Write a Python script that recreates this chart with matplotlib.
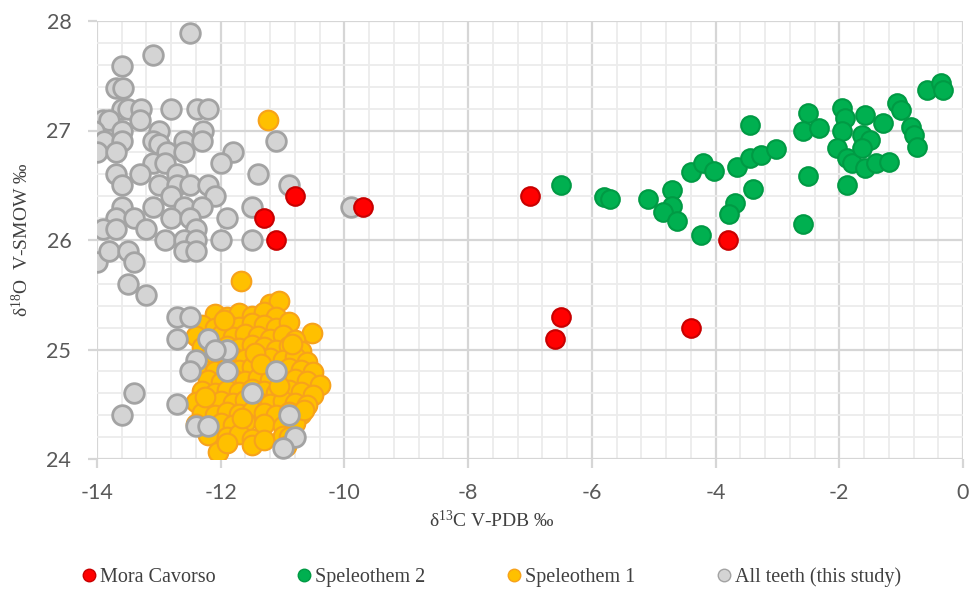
import matplotlib
matplotlib.use("Agg")
import matplotlib.pyplot as plt
from matplotlib.lines import Line2D
import numpy as np

plt.rcParams['mathtext.fontset'] = 'custom'
plt.rcParams['mathtext.rm'] = 'Liberation Serif'
plt.rcParams['mathtext.it'] = 'Liberation Serif:italic'

# ---------------- data ----------------
mora_x = [-11.3, -11.1, -10.8, -9.7, -7.0, -6.5, -6.6, -4.4, -3.8]
mora_y = [26.2, 26.0, 26.4, 26.3, 26.4, 25.3, 25.1, 25.2, 26.0]

spel2_x = [-6.5, -5.8, -5.7, -5.1, -4.7, -4.7, -4.85, -4.63, -4.23, -4.4, -4.2, -4.03,
           -3.66, -3.45, -3.27, -3.03, -3.68, -3.79, -3.39, -3.45, -2.5, -2.58, -1.87,
           -2.5, -2.58, -2.32, -1.96, -1.9, -1.96, -2.03, -1.88, -1.79, -1.58, -1.64,
           -1.51, -1.64, -1.58, -1.4, -1.19, -1.3, -1.06, -1.0, -0.84, -0.79, -0.75,
           -0.59, -0.35, -0.32]
spel2_y = [26.5, 26.39, 26.37, 26.37, 26.46, 26.31, 26.26, 26.17, 26.05, 26.62, 26.7, 26.63,
           26.67, 26.75, 26.78, 26.83, 26.34, 26.24, 26.47, 27.05, 26.58, 26.15, 26.5,
           27.16, 27.0, 27.02, 27.21, 27.11, 27.0, 26.84, 26.75, 26.7, 27.14, 26.96,
           26.91, 26.84, 26.66, 26.7, 26.71, 27.07, 27.25, 27.19, 27.03, 26.96, 26.85,
           27.37, 27.43, 27.37]

spel1_x = [-11.24, -11.67, -10.53,
           -11.2, -11.05,
           -12.1, -11.9, -11.7, -11.5, -11.3, -11.1,
           -12.3, -12.1, -11.9, -11.7, -11.5, -11.3, -11.1, -10.9,
           -12.4, -12.2, -12.0, -11.8, -11.6, -11.4, -11.2, -11.0, -10.8,
           -12.3, -12.1, -11.9, -11.7, -11.5, -11.3, -11.1, -10.9, -10.7,
           -12.2, -12.0, -11.8, -11.6, -11.4, -11.2, -11.0, -10.8, -10.6,
           -12.3, -12.1, -11.9, -11.7, -11.5, -11.3, -11.1, -10.9, -10.7, -10.5,
           -12.2, -12.0, -11.8, -11.6, -11.4, -11.2, -11.0, -10.8, -10.6, -10.4,
           -12.3, -12.1, -11.9, -11.7, -11.5, -11.3, -11.1, -10.9, -10.7, -10.5,
           -12.4, -12.2, -12.0, -11.8, -11.6, -11.4, -11.2, -11.0, -10.8, -10.6,
           -12.3, -12.1, -11.9, -11.7, -11.5, -11.3, -11.1, -10.9, -10.7,
           -12.4, -12.2, -12.0, -11.8, -11.6, -11.3, -11.0, -10.8,
           -12.2, -11.9, -11.7, -11.5, -11.0, -10.9,
           -12.05, -11.9, -11.5, -11.3, -10.95,
           -11.95, -11.45, -11.05, -11.65, -10.85, -12.25, -11.35, -10.65]
spel1_y = [27.1, 25.63, 25.15,
           25.42, 25.44,
           25.32, 25.30, 25.33, 25.31, 25.34, 25.30,
           25.22, 25.20, 25.23, 25.21, 25.24, 25.22, 25.20, 25.25,
           25.12, 25.10, 25.13, 25.11, 25.14, 25.12, 25.10, 25.13, 25.09,
           25.02, 25.00, 25.03, 25.01, 25.04, 25.02, 25.00, 25.03, 24.99,
           24.92, 24.90, 24.93, 24.91, 24.94, 24.92, 24.90, 24.93, 24.89,
           24.82, 24.80, 24.83, 24.81, 24.84, 24.82, 24.80, 24.83, 24.81, 24.79,
           24.72, 24.70, 24.73, 24.71, 24.74, 24.72, 24.70, 24.73, 24.71, 24.68,
           24.62, 24.60, 24.63, 24.61, 24.64, 24.62, 24.60, 24.63, 24.61, 24.58,
           24.52, 24.50, 24.53, 24.51, 24.54, 24.52, 24.50, 24.53, 24.51, 24.49,
           24.42, 24.40, 24.43, 24.41, 24.44, 24.42, 24.40, 24.43, 24.41,
           24.32, 24.30, 24.33, 24.31, 24.34, 24.32, 24.30, 24.33,
           24.22, 24.20, 24.23, 24.18, 24.21, 24.20,
           24.06, 24.15, 24.13, 24.17, 24.12,
           25.27, 24.97, 24.67, 24.37, 25.05, 24.57, 24.87, 24.45]

teeth_x = [-12.5, -13.1, -13.6, -13.7, -13.58, -13.6, -13.5, -13.29, -12.8, -12.38, -12.2,
           -13.9, -13.8, -13.3, -14.05, -13.6, -13.0, -12.29, -13.89, -13.6, -13.1, -13.0,
           -12.6, -12.3, -11.1, -14.0, -13.7, -12.87, -12.6, -11.8, -13.1, -12.9, -12.0,
           -13.7, -13.3, -12.7, -11.4, -13.6, -13.0, -12.7, -12.5, -12.2, -10.9, -12.8,
           -12.1, -13.6, -13.1, -12.6, -12.3, -11.5, -9.9, -13.7, -13.4, -12.8, -12.5,
           -11.9, -13.9, -13.7, -13.2, -12.4, -12.9, -12.6, -12.4, -12.0, -11.5, -14.0,
           -13.8, -13.5, -13.4, -12.6, -12.4, -13.5, -13.2, -12.7, -12.5, -12.7, -12.2,
           -11.9, -12.1, -12.4, -12.5, -11.9, -11.1, -13.4, -11.5, -13.6, -12.7, -10.9,
           -12.4, -12.2, -10.8, -11.0]
teeth_y = [27.89, 27.69, 27.59, 27.39, 27.39, 27.2, 27.2, 27.2, 27.2, 27.2, 27.2,
           27.1, 27.1, 27.1, 27.0, 27.0, 27.0, 27.0, 26.9, 26.9, 26.9, 26.88,
           26.9, 26.9, 26.9, 26.8, 26.8, 26.8, 26.8, 26.8, 26.7, 26.7, 26.7,
           26.6, 26.6, 26.6, 26.6, 26.5, 26.5, 26.5, 26.5, 26.5, 26.5, 26.4,
           26.4, 26.3, 26.3, 26.3, 26.3, 26.3, 26.3, 26.2, 26.2, 26.2, 26.2,
           26.2, 26.1, 26.1, 26.1, 26.1, 26.0, 26.0, 26.0, 26.0, 26.0, 25.8,
           25.9, 25.9, 25.8, 25.9, 25.9, 25.6, 25.5, 25.3, 25.3, 25.1, 25.1,
           25.0, 25.0, 24.9, 24.8, 24.8, 24.8, 24.6, 24.6, 24.4, 24.5, 24.4,
           24.3, 24.3, 24.2, 24.1]

x_ticks = [-14, -12, -10, -8, -6, -4, -2, 0]
y_ticks = [24, 25, 26, 27, 28]

# ---------------- figure ----------------
W, H = 974, 591
fig = plt.figure(figsize=(W / 100, H / 100), dpi=100)
ax = fig.add_axes([97 / W, 1 - 459 / H, (963 - 97) / W, (459 - 21) / H])

ax.set_xlim(-14, 0)
ax.set_ylim(24, 28)
ax.set_xticks(x_ticks)
ax.set_yticks(y_ticks)
ax.set_xticks(np.arange(-14, 0.01, 0.4), minor=True)
ax.set_yticks(np.arange(24, 28.01, 0.2), minor=True)
ax.grid(True, which='minor', color='#ececec', lw=1.3, zorder=0)
ax.grid(True, which='major', color='#d6d6d6', lw=1.6, zorder=0)
ax.set_axisbelow(True)
for s in ax.spines.values():
    s.set_visible(False)
ax.tick_params(which='major', length=6.5, width=1.6, color='#d6d6d6',
               labelsize=15.5, labelcolor='#595959')
ax.tick_params(axis='x', which='major', pad=11)
ax.tick_params(axis='y', which='major', pad=12)
ax.tick_params(which='minor', length=0)
ax.set_xticklabels([str(t) for t in x_ticks], family='Lato')
ax.set_yticklabels([str(t) for t in y_ticks], family='Lato')

ms = 200
ax.scatter(spel1_x, spel1_y, s=ms, c='#ffc000', edgecolors='#f7a21b', linewidths=1.5, zorder=2)
ax.scatter(teeth_x, teeth_y, s=ms, c='#d4d4d4', edgecolors='#a3a3a3', linewidths=2.0, zorder=3)
ax.scatter(spel2_x, spel2_y, s=ms * 0.9, c='#00b050', edgecolors='#009a44', linewidths=1.5, zorder=4)
ax.scatter(mora_x, mora_y, s=ms * 0.9, c='#ff0000', edgecolors='#c80000', linewidths=1.5, zorder=5)

fig.text(492 / W, 1 - 521 / H, 'δ$^{13}$C V-PDB ‰', family='Liberation Serif', fontsize=14,
         color='#404040', ha='center', va='center')
fig.text(22 / W, 1 - 240 / H, 'δ$^{18}$O  V-SMOW ‰', family='Liberation Serif', fontsize=14,
         color='#404040', ha='center', va='center', rotation=90)

handles = [
    Line2D([], [], ls='', marker='o', ms=9, mfc='#ff0000', mec='#c80000', label='Mora Cavorso'),
    Line2D([], [], ls='', marker='o', ms=9, mfc='#00b050', mec='#009a44', label='Speleothem 2'),
    Line2D([], [], ls='', marker='o', ms=9, mfc='#ffc000', mec='#f7a21b', label='Speleothem 1'),
    Line2D([], [], ls='', marker='o', ms=9, mfc='#d4d4d4', mec='#a3a3a3', label='All teeth (this study)'),
]
leg = fig.legend(handles=handles, loc='center', bbox_to_anchor=(490 / W, 1 - 577 / H),
                 ncol=4, frameon=False, handletextpad=0.05, columnspacing=3.9,
                 prop={'family': 'Liberation Serif', 'size': 14.5}, labelcolor='#404040',
                 handlelength=1.0)

fig.savefig('out.png', dpi=100)
